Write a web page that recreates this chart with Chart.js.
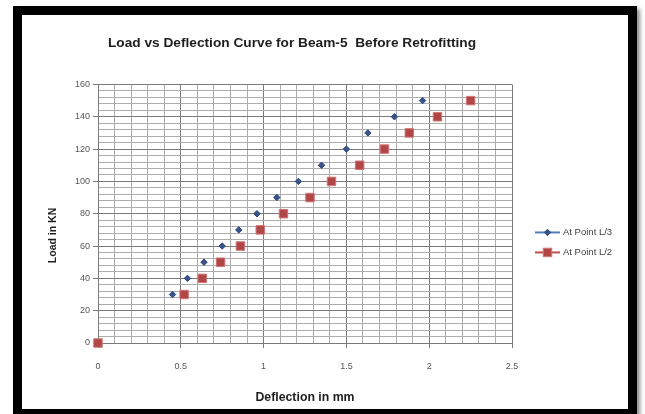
<!DOCTYPE html>
<html>
<head>
<meta charset="utf-8">
<title>Load vs Deflection Curve for Beam-5</title>
<script src="https://cdn.jsdelivr.net/npm/chart.js"></script>
<style>
    html, body { margin: 0; padding: 0; overflow: hidden; background: #fff; }
    #frame {
        position: absolute; left: 13px; top: 6px; width: 624px; height: 412px;
        border: 9px solid #000; box-sizing: border-box; background: #fff;
        box-shadow: 3px 3px 4px rgba(0, 0, 0, 0.45);
    }
    #chart { position: absolute; left: 0; top: 0; }
</style>
</head>
<body>
<div id="frame"></div>
<canvas id="chart" width="645" height="414"></canvas>
<script>
// values
const chartTitle = 'Load vs Deflection Curve for Beam-5  Before Retrofitting';
const xTitle = 'Deflection in mm';
const yTitle = 'Load in KN';
const seriesNames = ['At Point L/3', 'At Point L/2'];
const loadKN = [0, 30, 40, 50, 60, 70, 80, 90, 100, 110, 120, 130, 140, 150];
const deflectionL3 = [0, 0.45, 0.54, 0.64, 0.75, 0.85, 0.96, 1.08, 1.21, 1.35, 1.50, 1.63, 1.79, 1.96];
const deflectionL2 = [0, 0.52, 0.63, 0.74, 0.86, 0.98, 1.12, 1.28, 1.41, 1.58, 1.73, 1.88, 2.05, 2.25];
const xTicks = [0, 0.5, 1, 1.5, 2, 2.5];
const yTicks = [0, 20, 40, 60, 80, 100, 120, 140, 160];

const majorGrid = '#7a7a7a';
const minorGrid = '#adadad';
const textDark = '#1e1e1e';
const fontFamily = '"Liberation Sans", Arial, sans-serif';

Chart.defaults.font.family = fontFamily;

function isMajor(list, v) {
    return list.some(t => Math.abs(t - v) < 1e-6);
}

function toPoints(xs) {
    return xs.map((d, i) => ({ x: d, y: loadKN[i] }));
}

// y title sits a bit below the middle in the original, and the legend is
// Excel style (short line with the marker on it), so both are drawn here
const excelBits = {
    id: 'excelBits',
    afterDraw(chart) {
        const { ctx, chartArea } = chart;

        ctx.save();
        ctx.translate(53, chartArea.top + 151);
        ctx.rotate(-Math.PI / 2);
        ctx.fillStyle = textDark;
        ctx.font = 'bold 10.5px ' + fontFamily;
        ctx.textAlign = 'center';
        ctx.textBaseline = 'middle';
        ctx.fillText(yTitle, 0, 0);
        ctx.restore();

        const x0 = chartArea.right + 23;
        chart.data.datasets.forEach((ds, i) => {
            const y = chartArea.top + 148 + i * 20;
            const cx = x0 + 12.5;
            ctx.save();
            ctx.strokeStyle = ds.legendLine;
            ctx.lineWidth = 2;
            ctx.beginPath();
            ctx.moveTo(x0, y);
            ctx.lineTo(x0 + 25, y);
            ctx.stroke();

            ctx.fillStyle = ds.backgroundColor;
            ctx.strokeStyle = ds.borderColor;
            ctx.lineWidth = 1;
            ctx.beginPath();
            if (ds.pointStyle === 'rectRot') {
                const r = ds.pointRadius;
                ctx.moveTo(cx, y - r);
                ctx.lineTo(cx + r, y);
                ctx.lineTo(cx, y + r);
                ctx.lineTo(cx - r, y);
                ctx.closePath();
            } else {
                const s = ds.pointRadius * Math.SQRT1_2;
                ctx.rect(cx - s, y - s, 2 * s, 2 * s);
            }
            ctx.fill();
            ctx.stroke();

            ctx.fillStyle = '#404040';
            ctx.font = '9.5px ' + fontFamily;
            ctx.textBaseline = 'middle';
            ctx.fillText(ds.label, x0 + 28, y);
            ctx.restore();
        });
    }
};

const ctx = document.getElementById('chart').getContext('2d');
const loadChart = new Chart(ctx, {
    type: 'scatter',
    data: {
        datasets: [{
            label: seriesNames[0],
            data: toPoints(deflectionL3),
            pointStyle: 'rectRot',
            pointRadius: 3.2,
            backgroundColor: '#37548e',
            borderColor: '#2d4678',
            borderWidth: 1,
            legendLine: '#4f81bd',
            clip: false,
            order: 2
        }, {
            label: seriesNames[1],
            data: toPoints(deflectionL2),
            pointStyle: 'rect',
            pointRadius: 6,
            backgroundColor: '#b04646',
            borderColor: '#d27676',
            borderWidth: 1,
            legendLine: '#c0504d',
            clip: false,
            order: 1
        }]
    },
    options: {
        responsive: false,
        animation: false,
        layout: {
            padding: { left: 40, right: 101, top: 0, bottom: 0 }
        },
        plugins: {
            legend: { display: false },
            tooltip: { enabled: false },
            title: {
                display: true,
                text: chartTitle,
                color: textDark,
                font: { size: 13.7, weight: 'bold' },
                padding: { top: 35, bottom: 33 }
            }
        },
        scales: {
            x: {
                type: 'linear',
                min: 0,
                max: 2.5,
                ticks: {
                    stepSize: 0.1,
                    autoSkip: false,
                    maxRotation: 0,
                    padding: 13,
                    color: '#555',
                    font: { size: 9 },
                    callback: v => isMajor(xTicks, v) ? String(Math.round(v * 10) / 10) : ''
                },
                grid: {
                    color: c => isMajor(xTicks, c.tick.value) ? majorGrid : minorGrid,
                    tickColor: c => isMajor(xTicks, c.tick.value) ? majorGrid : 'rgba(0,0,0,0)',
                    tickLength: 5
                },
                border: { color: majorGrid },
                title: {
                    display: true,
                    text: xTitle,
                    color: textDark,
                    font: { size: 12.3, weight: 'bold' },
                    padding: { top: 0, bottom: 9 }
                },
                afterFit(scale) { scale.height = 71; }
            },
            y: {
                min: 0,
                max: 160,
                ticks: {
                    stepSize: 4,
                    autoSkip: false,
                    padding: 3,
                    color: '#555',
                    font: { size: 9 },
                    callback: v => isMajor(yTicks, v) ? String(v) : ''
                },
                grid: {
                    color: c => isMajor(yTicks, c.tick.value) ? majorGrid : minorGrid,
                    tickColor: c => isMajor(yTicks, c.tick.value) ? majorGrid : 'rgba(0,0,0,0)',
                    tickLength: 5
                },
                border: { color: majorGrid },
                afterFit(scale) { scale.width = 58; }
            },
            // empty axis that only reserves room between the plot and the legend
            legendGap: {
                position: 'right',
                grid: { display: false },
                ticks: { display: false },
                border: { display: false },
                afterFit(scale) { scale.width = 32; }
            }
        }
    },
    plugins: [excelBits]
});
</script>
</body>
</html>
